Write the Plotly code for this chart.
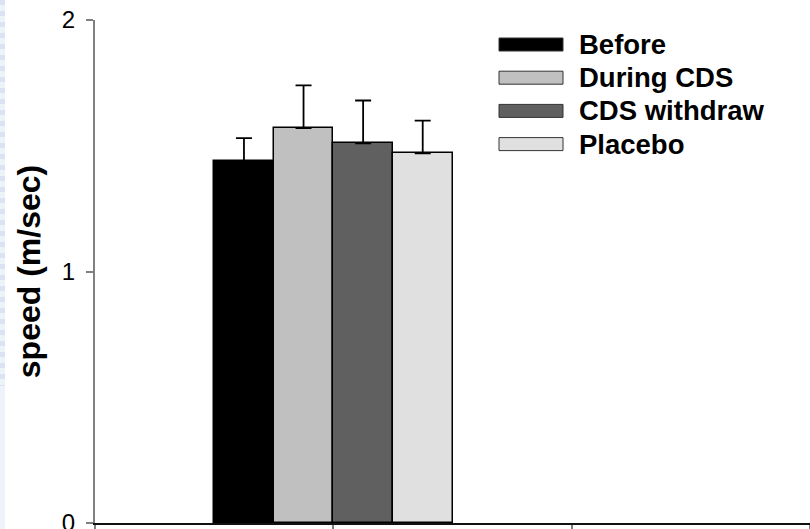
import plotly.graph_objects as go

# ---- data ----
groups = [1]
series_names = ["Before", "During CDS", "CDS withdraw", "Placebo"]
series_values = [[1.44], [1.57], [1.51], [1.47]]
series_errors = [[0.09], [0.17], [0.17], [0.13]]
colors = ["#000000", "#c0c0c0", "#606060", "#e0e0e0"]
y_ticks = [0, 1, 2]
y_ticklabels = ["0", "1", "2"]

# figure is a bit taller than the window so the bottom is cropped like the reference
W, H = 810, 545
VIEW_H = 529
ML, MR, MT = 95, 0, 20
MB = H - (VIEW_H - 6)
PW, PH = W - ML - MR, H - MT - MB

def px_x(px):
    return (px - ML) / PW

def px_y(py):
    return (H - MB - py) / PH

fig = go.Figure()
for name, vals, errs, col in zip(series_names, series_values, series_errors, colors):
    fig.add_trace(go.Bar(
        x=groups, y=vals, name=name,
        marker=dict(color=col, line=dict(color="#000000", width=1.5)),
        error_y=dict(type="data", array=errs, arrayminus=[0] * len(errs),
                     symmetric=False, color="#000000", thickness=1.8, width=8),
        showlegend=False,
    ))

shapes = []
annotations = []
# left decorative strip
shapes.append(dict(type="rect", xref="paper", yref="paper",
                   x0=px_x(0), x1=px_x(5), y0=px_y(H), y1=px_y(0),
                   fillcolor="#eef3fa", line=dict(width=0), layer="below"))
shapes.append(dict(type="line", xref="paper", yref="paper",
                   x0=px_x(2.5), x1=px_x(2.5), y0=px_y(0), y1=px_y(386),
                   line=dict(color="#d9e3f2", width=5, dash="5px,6px")))

# custom legend
leg_x0, leg_x1, leg_text_x = 499, 563, 577
row_y0, row_dy, sw_h = 44.5, 33.2, 13
for i, (name, col) in enumerate(zip(series_names, colors)):
    cy = row_y0 + i * row_dy
    shapes.append(dict(type="rect", xref="paper", yref="paper",
                       x0=px_x(leg_x0), x1=px_x(leg_x1),
                       y0=px_y(cy + sw_h / 2), y1=px_y(cy - sw_h / 2),
                       fillcolor=col, line=dict(color="#333333", width=1)))
    annotations.append(dict(xref="paper", yref="paper", x=px_x(leg_text_x), y=px_y(cy),
                            text="<b>%s</b>" % name, showarrow=False,
                            xanchor="left", yanchor="middle",
                            font=dict(family="Liberation Sans, Arial", size=27.5, color="#000000")))

fig.update_layout(
    width=W, height=H,
    margin=dict(l=ML, r=MR, t=MT, b=MB, autoexpand=False),
    paper_bgcolor="#ffffff", plot_bgcolor="#ffffff",
    barmode="group", bargap=0, bargroupgap=0,
    shapes=shapes, annotations=annotations,
    font=dict(family="Liberation Sans, Arial", color="#000000"),
    xaxis=dict(range=[0, 3], tickmode="array", tickvals=[0, 1, 2, 3],
               showticklabels=False, ticks="outside", ticklen=8, tickwidth=2,
               tickcolor="#808080", showgrid=False, zeroline=False,
               showline=True, linecolor="#111111", linewidth=2),
    yaxis=dict(range=[0, 2], tickmode="array", tickvals=y_ticks, ticktext=y_ticklabels,
               ticks="outside", ticklen=7, tickwidth=2, tickcolor="#808080",
               showgrid=False, zeroline=False, showline=True, linecolor="#808080",
               linewidth=2, tickfont=dict(size=24, color="#000000"),
               ticklabelstandoff=6,
               title=dict(text="<b>speed (m/sec)</b>", font=dict(size=32, color="#000000"),
                          standoff=12)),
)

fig.write_html("out.html",
               config={"displayModeBar": False},
               post_script="document.body.style.margin='0';document.body.style.overflow='hidden';")
